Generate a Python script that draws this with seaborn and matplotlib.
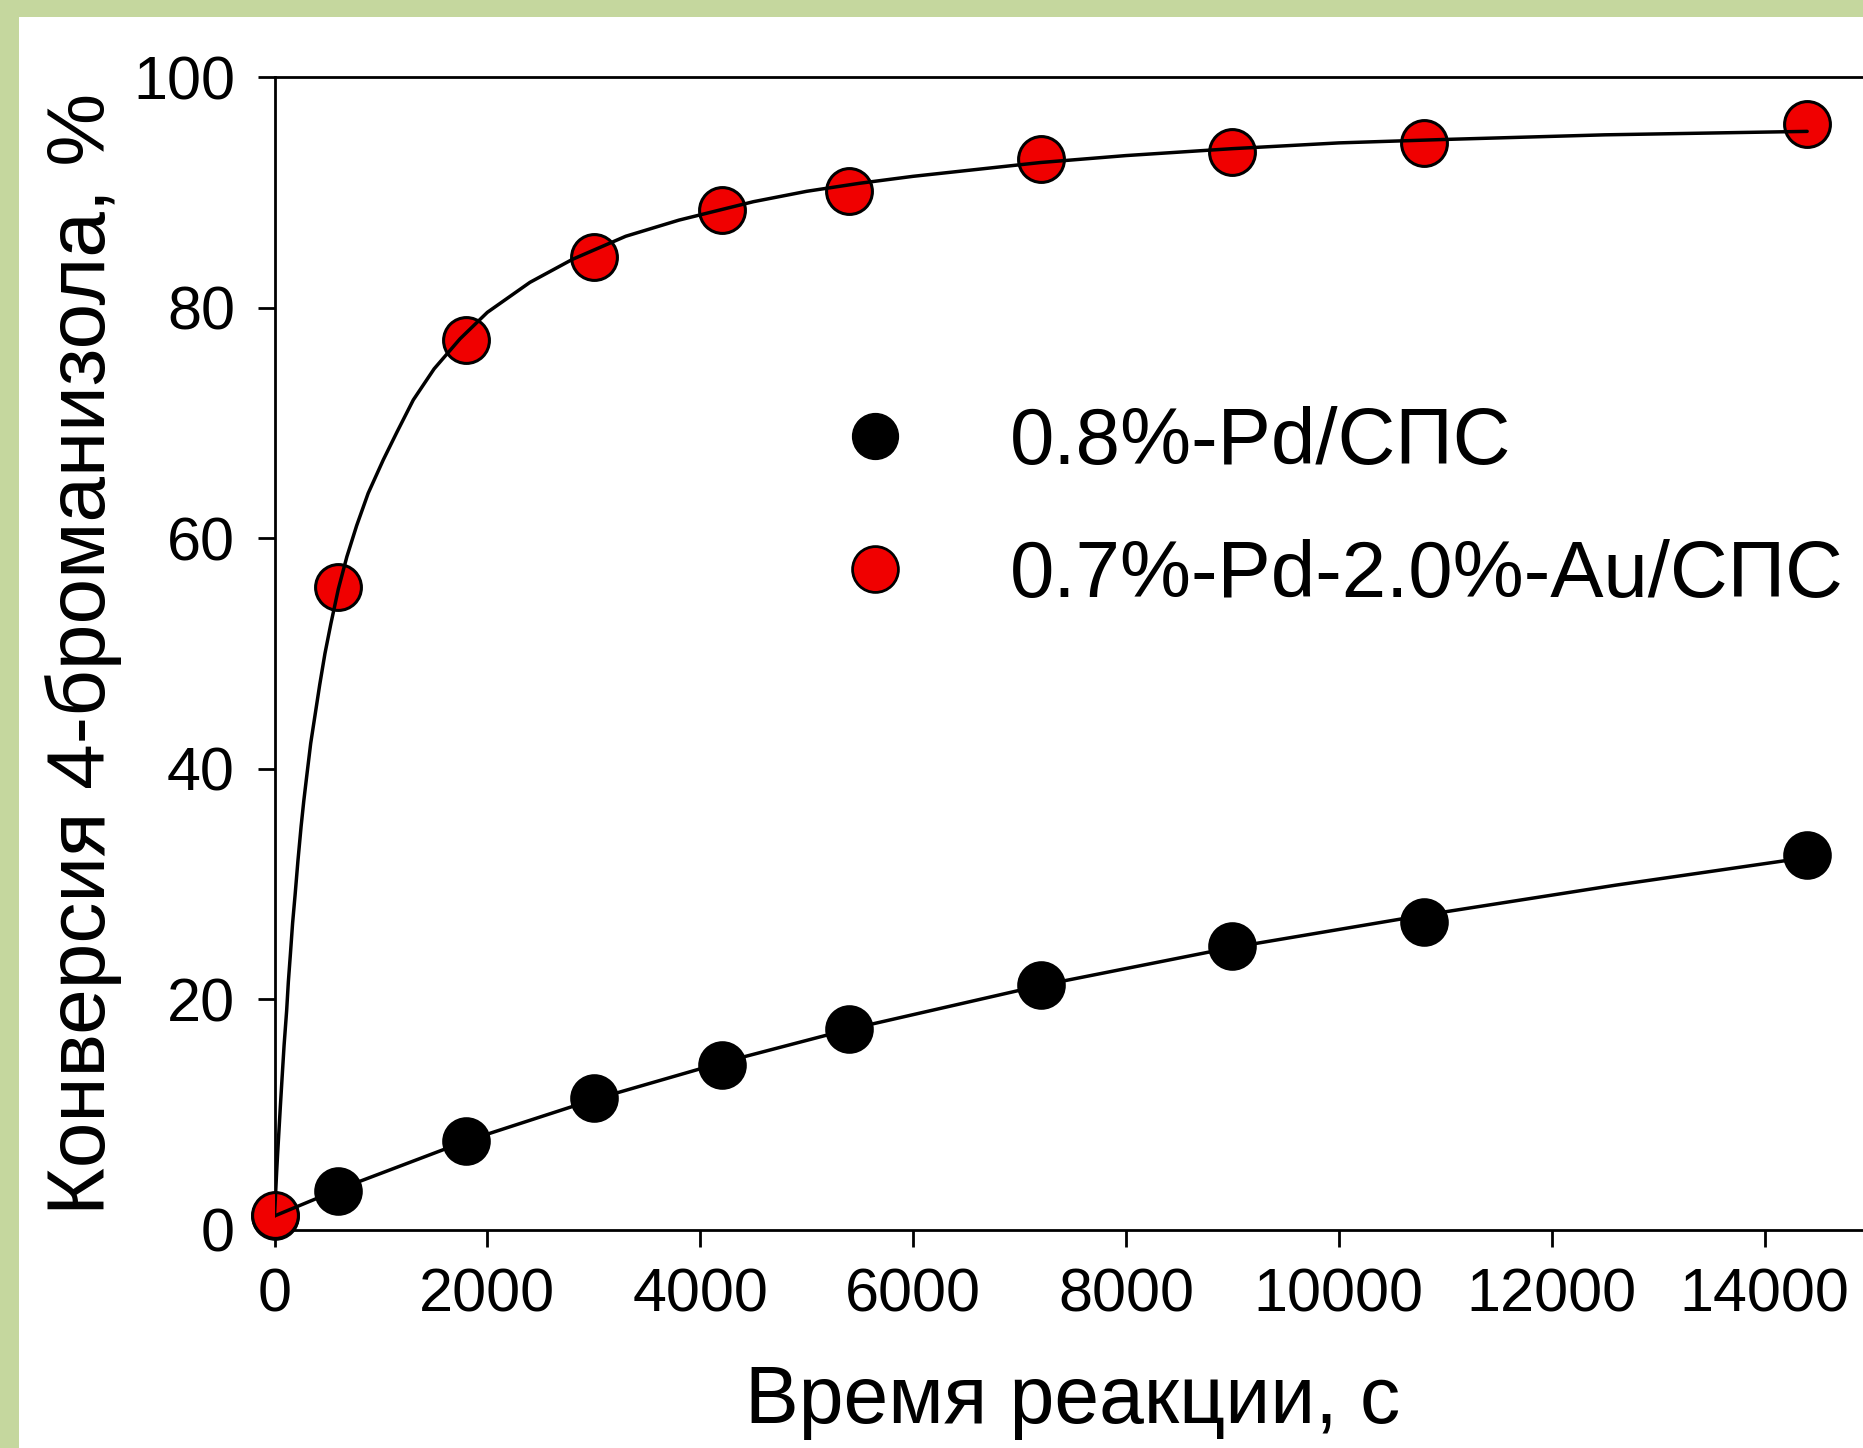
import matplotlib
matplotlib.use("Agg")
import matplotlib.pyplot as plt
from matplotlib.lines import Line2D
from matplotlib.patches import Rectangle
import pandas as pd
import seaborn as sns

# данные (время, с / конверсия, %)
time_s = [0, 600, 1800, 3000, 4200, 5400, 7200, 9000, 10800, 14400]
conv_pd = [1.2, 3.4, 7.7, 11.4, 14.3, 17.4, 21.2, 24.6, 26.7, 32.5]
conv_pdau = [1.3, 55.8, 77.2, 84.4, 88.5, 90.1, 92.9, 93.5, 94.3, 95.9]

# аппроксимирующие кривые
fit_pd_t = [0, 600, 1800, 3000, 4200, 5400, 7200, 9000, 10800, 12600, 14400]
fit_pd_y = [1.2, 3.5, 7.7, 11.3, 14.5, 17.4, 21.2, 24.5, 27.3, 29.9, 32.3]
fit_pdau_t = [0, 10, 20, 30, 40, 55, 70, 90, 114, 130, 150, 170, 193, 220, 250, 275,
              302, 340, 380, 425, 474, 530, 600, 680, 772, 880, 1022, 1150, 1304,
              1500, 1743, 2000, 2400, 2800, 3300, 3800, 4500, 5000, 5500, 6000,
              6600, 7200, 8000, 9000, 10000, 11000, 12500, 14400]
fit_pdau_y = [1.2, 3.1, 5.0, 6.7, 8.3, 10.7, 13.0, 16.0, 19.0, 21.5, 24.0, 26.6,
              29.0, 32.0, 35.0, 37.2, 39.3, 42.2, 44.6, 47.3, 50.0, 52.6, 55.6,
              58.4, 61.1, 63.9, 66.8, 69.2, 72.0, 74.7, 77.3, 79.6, 82.2, 84.2,
              86.2, 87.6, 89.2, 90.1, 90.8, 91.4, 92.0, 92.6, 93.2, 93.8, 94.3,
              94.6, 95.0, 95.3]

labels = ["0.8%-Pd/СПС", "0.7%-Pd-2.0%-Au/СПС"]

df_pd = pd.DataFrame({"t": time_s, "x": conv_pd})
df_pdau = pd.DataFrame({"t": time_s, "x": conv_pdau})
fit_pd = pd.DataFrame({"t": fit_pd_t, "x": fit_pd_y})
fit_pdau = pd.DataFrame({"t": fit_pdau_t, "x": fit_pdau_y})

sns.set_style("ticks")
plt.rcParams["font.family"] = ["Liberation Sans", "DejaVu Sans"]
plt.rcParams["text.color"] = "black"
plt.rcParams["axes.labelcolor"] = "black"

W, H = 1863, 1448
fig = plt.figure(figsize=(W / 100, H / 100), dpi=100)
fig.patch.set_facecolor("#c5d79e")
fig.add_artist(Rectangle((19 / W, 0), 1, 1 - 17 / H, transform=fig.transFigure,
                         facecolor="white", edgecolor="none", zorder=-10))

ax = fig.add_axes([274.5 / W, 218.2 / H, (1871 - 274.5) / W, (1229.8 - 77.2) / H])
ax.set_facecolor("white")

msize = 33 ** 2
red = "#f00000"
sns.scatterplot(data=df_pd, x="t", y="x", ax=ax, s=msize, color="black",
                edgecolor="black", linewidth=2, zorder=3, clip_on=False, legend=False)
sns.scatterplot(data=df_pdau, x="t", y="x", ax=ax, s=msize, color=red,
                edgecolor="black", linewidth=2.2, zorder=3, clip_on=False, legend=False)
sns.lineplot(data=fit_pd, x="t", y="x", ax=ax, color="black", lw=2.5, zorder=4,
             sort=False, estimator=None)
sns.lineplot(data=fit_pdau, x="t", y="x", ax=ax, color="black", lw=2.5, zorder=4,
             sort=False, estimator=None)

ax.set_xlim(0, 15000)
ax.set_ylim(0, 100)
ax.set_xticks(range(0, 15000, 2000))
ax.set_yticks(range(0, 101, 20))
ax.tick_params(axis="both", direction="out", length=12.5, width=2.0,
               labelsize=44, color="black", labelcolor="black")
ax.tick_params(axis="x", pad=15)
ax.tick_params(axis="y", pad=16)
for side in ["left", "bottom", "top", "right"]:
    ax.spines[side].set_visible(True)
    ax.spines[side].set_linewidth(2.0)
    ax.spines[side].set_color("black")

ax.set_xlabel("Время реакции, с", fontsize=58, labelpad=28)
ax.set_ylabel("Конверсия 4-броманизола, %", fontsize=59, labelpad=8)

handles = [
    Line2D([], [], marker="o", ls="none", markersize=33, mfc="black", mec="black"),
    Line2D([], [], marker="o", ls="none", markersize=33, mfc=red, mec="black", mew=2),
]
ax.legend(handles, labels, loc="upper left", bbox_to_anchor=(835 / W, 1042 / H),
          bbox_transform=fig.transFigure, frameon=False, fontsize=57.5,
          handlelength=1.0, handletextpad=1.19, labelspacing=0.72,
          borderpad=0, borderaxespad=0)

fig.savefig("out.png", dpi=100, facecolor=fig.get_facecolor())
